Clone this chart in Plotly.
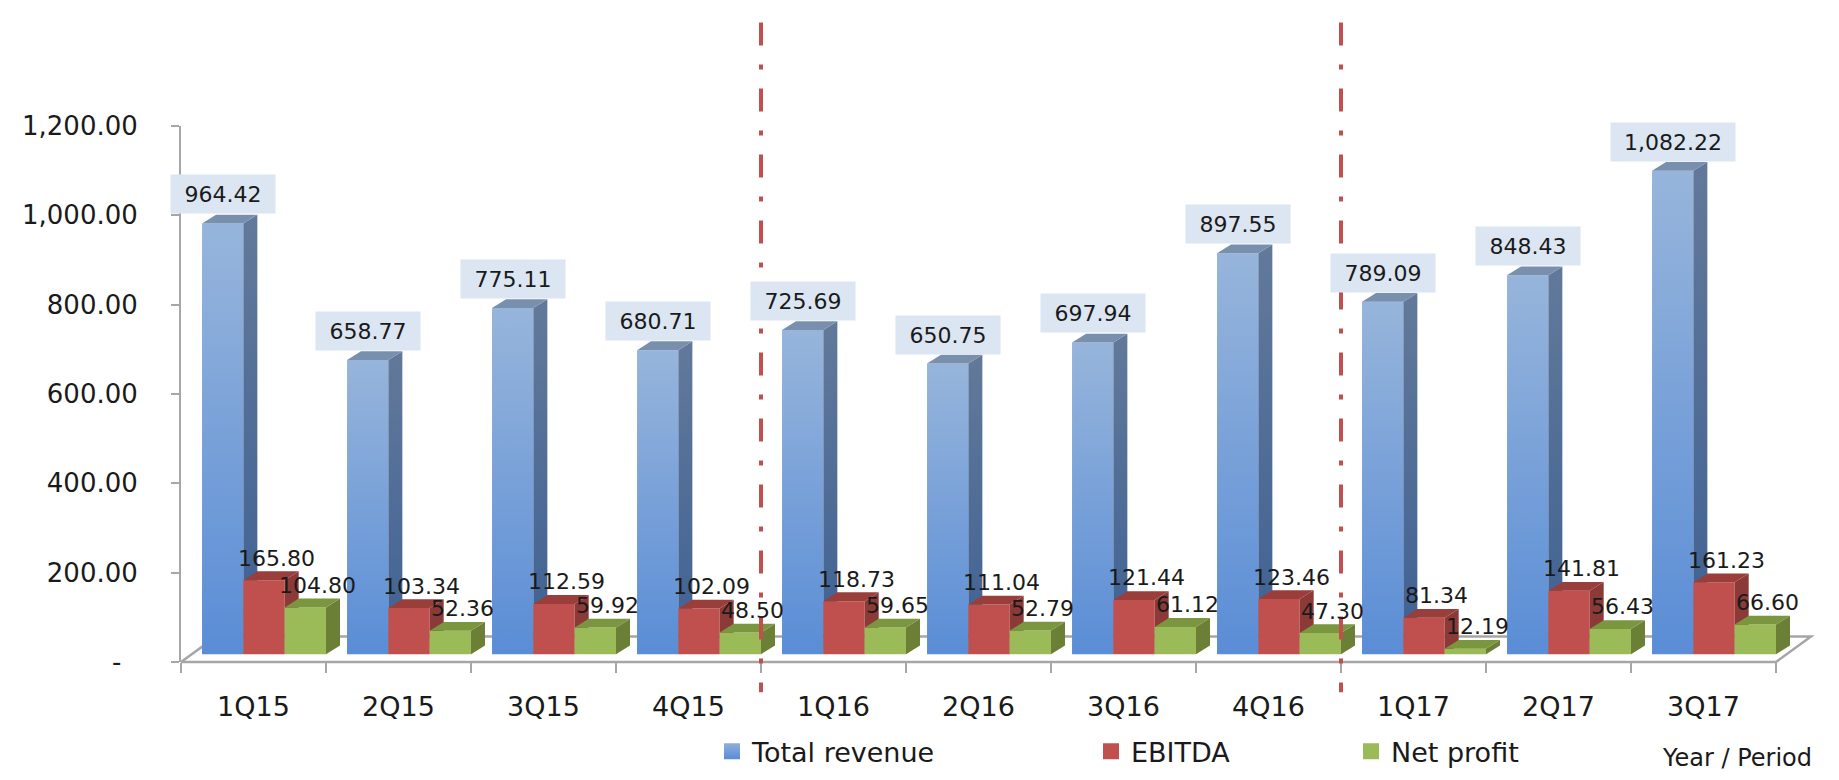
import plotly.graph_objects as go

# ---------------- data ----------------
categories = ["1Q15", "2Q15", "3Q15", "4Q15", "1Q16", "2Q16", "3Q16", "4Q16", "1Q17", "2Q17", "3Q17"]
total_revenue = [964.42, 658.77, 775.11, 680.71, 725.69, 650.75, 697.94, 897.55, 789.09, 848.43, 1082.22]
ebitda = [165.80, 103.34, 112.59, 102.09, 118.73, 111.04, 121.44, 123.46, 81.34, 141.81, 161.23]
net_profit = [104.80, 52.36, 59.92, 48.50, 59.65, 52.79, 61.12, 47.30, 12.19, 56.43, 66.60]
series_names = ["Total revenue", "EBITDA", "Net profit"]
y_tick_values = [0, 200, 400, 600, 800, 1000, 1200]
y_tick_labels = ["-\u00a0\u00a0", "200.00", "400.00", "600.00", "800.00", "1,000.00", "1,200.00"]
divider_after = ["4Q15", "4Q16"]
x_title = "Year / Period"

# ---------------- geometry / style ----------------
W, H = 1839, 780
ML, MR, MT, MB = 173, 29, 118, 113
plot_w = W - ML - MR
plot_h = H - MT - MB
px_per_cat = 145.0
x_min = 0.5
x_max = x_min + plot_w / px_per_cat
y_max = 1200
px_per_unit = plot_h / y_max
base_lift = 8 / px_per_unit            # bars stand slightly behind the front axis
y2_range = [-base_lift, y_max - base_lift]

bar_w = 0.285
ddx = 14 / px_per_cat                  # 3D depth offsets
ddy = 9 / px_per_unit

FONT = "DejaVu Sans"
styles = [
    dict(front=None, grad=[[0, "#5A8DD6"], [1, "#97B5DB"]],
         side_grad=[[0, "#3E6193"], [1, "#62799A"]], top="#7890AE",
         legend_color="#8EAEDB", legend_grad="#5A8DD6"),
    dict(front="#C0504D", side="#8C3A38", top="#9A3E3C", legend_color="#C0504D"),
    dict(front="#9BBB59", side="#6B8036", top="#7A963F", legend_color="#9BBB59"),
]
series_values = [total_revenue, ebitda, net_profit]

fig = go.Figure()


def poly_trace(xs, ys, color=None, grad=None):
    kw = dict(x=xs, y=ys, mode="lines", fill="toself", line=dict(width=0),
              yaxis="y2", showlegend=False, hoverinfo="skip")
    if grad is not None:
        kw["fillgradient"] = dict(type="vertical", colorscale=grad)
    else:
        kw["fillcolor"] = color
    return go.Scatter(**kw)


annotations = []
for s, (vals, st) in enumerate(zip(series_values, styles)):
    fx, fy, sx, sy, tx, ty = [], [], [], [], [], []
    for i, v in enumerate(vals):
        c = i + 1
        x1 = c + 0.5 - (2 - s) * bar_w
        x0 = x1 - bar_w
        front = ([x0, x1, x1, x0, x0], [0, 0, v, v, 0])
        side = ([x1, x1 + ddx, x1 + ddx, x1, x1], [0, ddy, v + ddy, v, 0])
        top = ([x0, x1, x1 + ddx, x0 + ddx, x0], [v, v, v + ddy, v + ddy, v])
        if st.get("grad"):
            fig.add_trace(poly_trace(*front, grad=st["grad"]))
            fig.add_trace(poly_trace(*side, grad=st["side_grad"]))
            fig.add_trace(poly_trace(*top, color=st["top"]))
        else:
            fx += front[0] + [None]; fy += front[1] + [None]
            sx += side[0] + [None]; sy += side[1] + [None]
            tx += top[0] + [None]; ty += top[1] + [None]
        label = f"{v:,.2f}"
        xc = (x0 + x1) / 2
        if s == 0:
            annotations.append(dict(
                x=xc, y=v, xref="x", yref="y2", text=label, showarrow=False,
                yanchor="bottom", yshift=9, bgcolor="#DCE6F2",
                width=int(36 + 10 * len(label)), height=30, borderpad=4,
                font=dict(family=FONT, size=22, color="#1A1A1A")))
        else:
            annotations.append(dict(
                x=xc, y=v, xref="x", yref="y2", text=label, showarrow=False,
                xshift=12, yshift=22,
                font=dict(family=FONT, size=22, color="#1A1A1A")))
    if not st.get("grad"):
        fig.add_trace(poly_trace(fx, fy, color=st["front"]))
        fig.add_trace(poly_trace(sx, sy, color=st["side"]))
        fig.add_trace(poly_trace(tx, ty, color=st["top"]))

# legend entries (three separate legends to match spacing)
legend_ids = ["legend", "legend2", "legend3"]
legend_icon_px = [724, 1103, 1363]
for name, st, lid in zip(series_names, styles, legend_ids):
    marker = dict(symbol="square", size=17, color=st["legend_color"], line=dict(width=0))
    if st.get("legend_grad"):
        marker["gradient"] = dict(type="vertical", color=st["legend_grad"])
    fig.add_trace(go.Scatter(x=[None], y=[None], mode="markers", name=name,
                             marker=marker, legend=lid, hoverinfo="skip"))

legend_common = dict(orientation="h", yanchor="middle", xanchor="left",
                     y=(MT + plot_h - 759) / plot_h, bgcolor="rgba(0,0,0,0)",
                     font=dict(family=FONT, size=27, color="#1A1A1A"))
legends = {}
for lid, px in zip(legend_ids, legend_icon_px):
    d = dict(legend_common)
    d["x"] = (px - 20 - ML) / plot_w
    legends[lid] = d

# floor of the 3D plot
floor_dx = 35 / px_per_cat
floor_dy = 26 / plot_h
shapes = [dict(type="path", xref="x", yref="paper", layer="below",
               path=(f"M {x_min},0 L {len(categories)+0.5},0 "
                     f"L {len(categories)+0.5+floor_dx},{floor_dy} "
                     f"L {x_min+floor_dx},{floor_dy} Z"),
               fillcolor="white", line=dict(color="#A6A6A6", width=2.5))]

# period dividers
for cat in divider_after:
    xd = categories.index(cat) + 1.5
    shapes.append(dict(type="line", xref="x", yref="paper", layer="above",
                       x0=xd, x1=xd, y0=(MT + plot_h - 12) / plot_h,
                       y1=(MT + plot_h - 698) / plot_h,
                       line=dict(color="#C0504D", width=4, dash="23px,19px,5px,19px")))

annotations.append(dict(text=x_title, xref="paper", yref="paper",
                        x=(1806 - ML) / plot_w, y=(MT + plot_h - 765) / plot_h,
                        xanchor="right", yanchor="middle", showarrow=False,
                        font=dict(family=FONT, size=24, color="#1A1A1A")))

fig.update_layout(
    width=W, height=H, autosize=False,
    margin=dict(l=ML, r=MR, t=MT, b=MB, pad=0),
    paper_bgcolor="white", plot_bgcolor="rgba(0,0,0,0)",
    font=dict(family=FONT, size=24, color="#1A1A1A"),
    xaxis=dict(range=[x_min, x_max], tickmode="array",
               tickvals=list(range(1, len(categories) + 1)), ticktext=categories,
               ticks="", showline=False, showgrid=False, zeroline=False,
               tickfont=dict(family=FONT, size=27, color="#1A1A1A"),
               ticklabelstandoff=26,
               minor=dict(tick0=0.5, dtick=1, ticks="outside", ticklen=10,
                          tickwidth=2, tickcolor="#A6A6A6", showgrid=False)),
    yaxis=dict(range=[0, y_max], tickmode="array", tickvals=y_tick_values,
               ticktext=y_tick_labels, ticks="outside", ticklen=8, tickwidth=2,
               tickcolor="#A6A6A6", showline=True, linecolor="#A6A6A6", linewidth=2,
               showgrid=False, zeroline=False, ticklabelstandoff=28,
               tickfont=dict(family=FONT, size=26, color="#1A1A1A")),
    yaxis2=dict(range=y2_range, overlaying="y", visible=False),
    shapes=shapes, annotations=annotations, showlegend=True,
    **legends,
)

fig.write_html("out.html")
